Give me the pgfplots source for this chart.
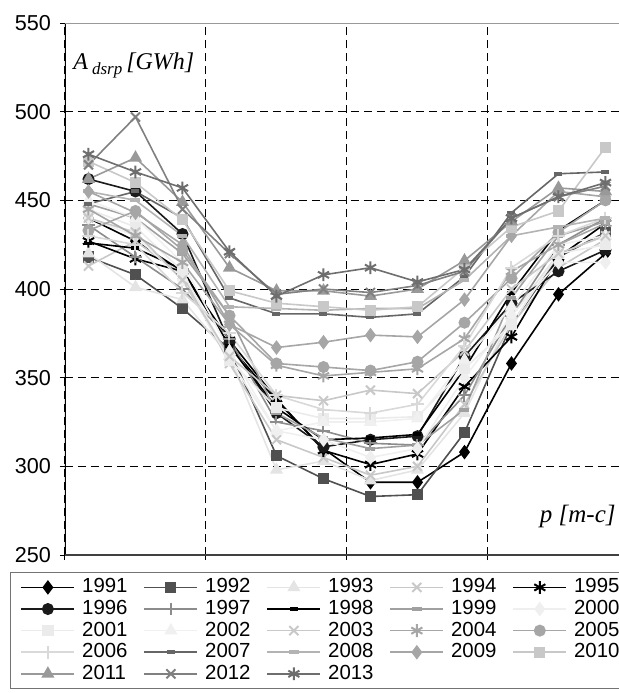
\documentclass[border=0pt]{standalone}
\usepackage{fontspec}
\setmainfont{Liberation Sans}
\newfontfamily\tnr{Liberation Serif}
\usepackage{pgfplots}
\usepackage{pgfplotstable}
\pgfplotsset{compat=1.18}

\pgfplotstableread{
m  a1991 a1992 a1993 a1994 a1995 a1996 a1997 a1998 a1999 a2000 a2001 a2002 a2003 a2004 a2005 a2006 a2007 a2008 a2009 a2010 a2011 a2012 a2013
1  440   418   420   413   427   462   436   426   448   440   445   450   440   445   433   430   448   455   455   472   462   470   476
2  427   408   401   427   417   455   418   423   440   430   435   440   432   430   444   425   455   450   443   460   474   497   466
3  410   389   394   408   410   431   400   411   420   405   410   415   405   415   422   398   440   430   425   439   449   445   457
4  368   366   362   358   371   370   372   368   385   360   360   365   362   380   385   375   395   390   380   399   412   420   421
5  337   306   298   315   338   330   325   333   330   320   333   320   340   357   358   340   386   389   367   392   399   397   396
6  310   293   303   305   309   311   320   315   316   315   327   325   337   351   356   332   386   388   370   390   399   400   408
7  291   283   292   295   301   315   313   316   310   305   327   325   343   353   354   330   384   389   374   388   396   398   412
8  291   284   298   300   307   317   312   318   312   310   328   327   341   355   359   335   386   389   373   390   400   402   404
9  308   319   330   335   345   362   340   355   332   350   355   360   365   372   381   368   407   405   394   412   416   410   411
10 358   380   385   380   373   392   385   398   395   385   380   390   400   410   406   412   443   430   430   435   438   440   440
11 397   418   420   412   418   410   425   433   430   415   420   425   420   425   432   430   465   435   455   444   457   452   452
12 420   432   430   428   437   422   440   450   438   415   425   430   430   437   450   440   466   440   452   480   455   458   460
}\datatable

\definecolor{c1991}{HTML}{000000}
\definecolor{c1992}{HTML}{505050}
\definecolor{c1993}{HTML}{E4E4E4}
\definecolor{c1994}{HTML}{C8C8C8}
\definecolor{c1995}{HTML}{000000}
\definecolor{c1996}{HTML}{1A1A1A}
\definecolor{c1997}{HTML}{8C8C8C}
\definecolor{c1998}{HTML}{000000}
\definecolor{c1999}{HTML}{A0A0A0}
\definecolor{c2000}{HTML}{EFEFEF}
\definecolor{c2001}{HTML}{EBEBEB}
\definecolor{c2002}{HTML}{F0F0F0}
\definecolor{c2003}{HTML}{C8C8C8}
\definecolor{c2004}{HTML}{A6A6A6}
\definecolor{c2005}{HTML}{A6A6A6}
\definecolor{c2006}{HTML}{D9D9D9}
\definecolor{c2007}{HTML}{666666}
\definecolor{c2008}{HTML}{B3B3B3}
\definecolor{c2009}{HTML}{A6A6A6}
\definecolor{c2010}{HTML}{C8C8C8}
\definecolor{c2011}{HTML}{999999}
\definecolor{c2012}{HTML}{808080}
\definecolor{c2013}{HTML}{6E6E6E}

\begin{document}
\begin{tikzpicture}
\begin{axis}[
  at={(0,0)}, anchor=south west,
  scale only axis,
  width=282pt, height=266pt,
  xmin=0.5, xmax=12.5,
  ymin=250, ymax=550,
  xtick={0.5,3.5,6.5,9.5,12.5},
  xticklabels={},
  ytick={250,300,350,400,450,500,550},
  tick align=outside,
  xtick pos=bottom, ytick pos=left,
  major tick length=2.5pt,
  tick style={black, line width=0.5pt},
  grid=major,
  major grid style={black, line width=0.5pt, dash pattern=on 4pt off 2.5pt},
  axis line style={draw=none},
  ticklabel style={font=\fontsize{10.8}{12}\selectfont},
  yticklabel style={xshift=-1pt},
  /pgf/number format/assume math mode=true,
  every axis plot/.append style={line width=0.8pt},
  mark size=2.5pt,
  legend columns=5,
  legend style={
    at={(axis description cs:-0.0975,-0.032)}, anchor=north west,
    draw=black!55, line width=0.6pt,
    inner xsep=5pt, inner ysep=2pt,
    font=\fontsize{10.2}{11}\selectfont,
    nodes={text height=7.6pt, text depth=2.2pt, inner ysep=0.5pt, inner xsep=3.5pt},
    /tikz/every even column/.append style={column sep=4.5pt},
  },
  legend cell align=left,
  legend image code/.code={\draw[mark repeat=2,mark phase=2,#1] plot coordinates {(0pt,0pt) (13.25pt,0pt) (26.5pt,0pt)};},
]
\addplot[c1991, mark=diamond*, mark options={fill=c1991, solid}, mark size=3pt] table[x=m,y=a1991]{\datatable};
\addlegendentry{1991}
\addplot[c1992, mark=square*, mark options={fill=c1992, solid}, mark size=2.4pt] table[x=m,y=a1992]{\datatable};
\addlegendentry{1992}
\addplot[c1993, mark=triangle*, mark options={fill=c1993, solid}, mark size=3pt] table[x=m,y=a1993]{\datatable};
\addlegendentry{1993}
\addplot[c1994, mark=x, mark options={solid, line width=1pt}, mark size=3.2pt] table[x=m,y=a1994]{\datatable};
\addlegendentry{1994}
\addplot[c1995, mark=asterisk, mark options={solid, line width=1pt}, mark size=3.2pt] table[x=m,y=a1995]{\datatable};
\addlegendentry{1995}
\addplot[c1996, mark=*, mark options={fill=c1996, solid}, mark size=2.6pt] table[x=m,y=a1996]{\datatable};
\addlegendentry{1996}
\addplot[c1997, mark=+, mark options={solid, line width=1pt}, mark size=3.2pt] table[x=m,y=a1997]{\datatable};
\addlegendentry{1997}
\addplot[c1998, mark=-, mark options={solid, line width=2pt}, mark size=2pt] table[x=m,y=a1998]{\datatable};
\addlegendentry{1998}
\addplot[c1999, mark=-, mark options={solid, line width=2pt}, mark size=2.5pt] table[x=m,y=a1999]{\datatable};
\addlegendentry{1999}
\addplot[c2000, mark=diamond*, mark options={fill=c2000, solid}, mark size=3pt] table[x=m,y=a2000]{\datatable};
\addlegendentry{2000}
\addplot[c2001, mark=square*, mark options={fill=c2001, solid}, mark size=2.4pt] table[x=m,y=a2001]{\datatable};
\addlegendentry{2001}
\addplot[c2002, mark=triangle*, mark options={fill=c2002, solid}, mark size=3pt] table[x=m,y=a2002]{\datatable};
\addlegendentry{2002}
\addplot[c2003, mark=x, mark options={solid, line width=1pt}, mark size=3.2pt] table[x=m,y=a2003]{\datatable};
\addlegendentry{2003}
\addplot[c2004, mark=asterisk, mark options={solid, line width=1pt}, mark size=3.2pt] table[x=m,y=a2004]{\datatable};
\addlegendentry{2004}
\addplot[c2005, mark=*, mark options={fill=c2005, solid}, mark size=2.6pt] table[x=m,y=a2005]{\datatable};
\addlegendentry{2005}
\addplot[c2006, mark=+, mark options={solid, line width=1pt}, mark size=3.2pt] table[x=m,y=a2006]{\datatable};
\addlegendentry{2006}
\addplot[c2007, mark=-, mark options={solid, line width=2pt}, mark size=2pt] table[x=m,y=a2007]{\datatable};
\addlegendentry{2007}
\addplot[c2008, mark=-, mark options={solid, line width=2pt}, mark size=2.5pt] table[x=m,y=a2008]{\datatable};
\addlegendentry{2008}
\addplot[c2009, mark=diamond*, mark options={fill=c2009, solid}, mark size=3pt] table[x=m,y=a2009]{\datatable};
\addlegendentry{2009}
\addplot[c2010, mark=square*, mark options={fill=c2010, solid}, mark size=2.4pt] table[x=m,y=a2010]{\datatable};
\addlegendentry{2010}
\addplot[c2011, mark=triangle*, mark options={fill=c2011, solid}, mark size=3pt] table[x=m,y=a2011]{\datatable};
\addlegendentry{2011}
\addplot[c2012, mark=x, mark options={solid, line width=1pt}, mark size=3.2pt] table[x=m,y=a2012]{\datatable};
\addlegendentry{2012}
\addplot[c2013, mark=asterisk, mark options={solid, line width=1pt}, mark size=3.2pt] table[x=m,y=a2013]{\datatable};
\addlegendentry{2013}

\draw[black, line width=0.7pt] (rel axis cs:0,0) -- (rel axis cs:0,1);
\draw[black!75, line width=1pt] (rel axis cs:0,0) -- (rel axis cs:1,0);
\draw[black!40, line width=1pt] (rel axis cs:0,1) -- (rel axis cs:1,1);

\node[anchor=west, inner sep=0pt, font=\tnr\itshape\fontsize{12}{14}\selectfont] at (rel axis cs:0.0142,0.921)
  {A\,\raisebox{-0.45ex}{\fontsize{8.5}{10}\selectfont dsrp}\,[GWh]};
\node[anchor=east, inner sep=0pt, font=\tnr\itshape\fontsize{12.5}{14}\selectfont] at (rel axis cs:0.977,0.073)
  {p [m-c]};
\end{axis}
\pgfresetboundingbox
\useasboundingbox (-32.5pt,-69pt) rectangle (277pt,277.5pt);
\end{tikzpicture}
\end{document}
